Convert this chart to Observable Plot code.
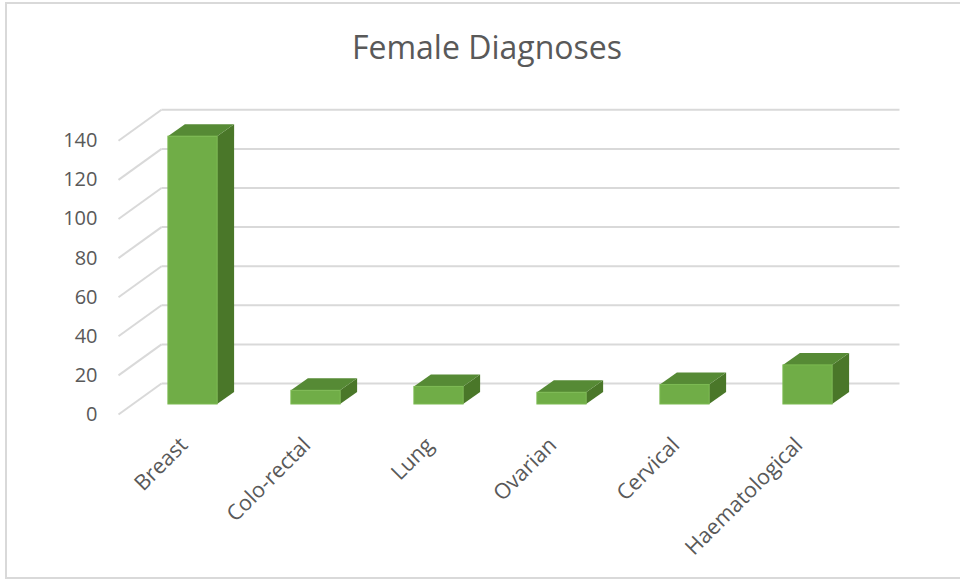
<!DOCTYPE html>
<html><head><meta charset="utf-8">
<script src="https://cdn.jsdelivr.net/npm/d3@7"></script>
<script src="https://cdn.jsdelivr.net/npm/@observablehq/plot@0.6"></script>
<style>
html,body{margin:0;padding:0;background:#fff;width:960px;height:579px;overflow:hidden;}
#frame{position:absolute;left:5px;top:2px;width:960px;height:573px;border:2px solid #d9d9d9;border-right:none;pointer-events:none;}
#title{height:80px;position:relative;}
#title span{position:absolute;left:487px;top:25px;transform:translateX(-50%);font-family:"Open Sans";font-size:32px;line-height:normal;color:#595959;white-space:nowrap;}
#chart svg{display:block;}
</style></head><body>
<div id="frame"></div>
<div id="title"><span>Female Diagnoses</span></div>
<div id="chart"></div>
<script>
const categories = ["Breast", "Colo-rectal", "Lung", "Ovarian", "Cervical", "Haematological"];
const values = [137, 7, 9, 6, 10, 20];
const yTicks = [0, 20, 40, 60, 80, 100, 120, 140];

// 3D projection offsets (in data units of the bar front plane)
const pxX = 123, pxY = 1.955;
const bx = 30 / pxX, by = 21 / pxY;     // back wall
const fx = -13 / pxX, fy = -10 / pxY;   // front edge of floor/side wall
const ddx = 17 / pxX, ddy = 12 / pxY;   // bar depth
const bw0 = 0.3, bw1 = 0.7;

const bars = categories.map((c, i) => ({c, i, v: values[i]}));
const sideFaces = bars.flatMap(d => [
  {k: d.c, x: d.i + bw1, y1: 0, y2: d.v},
  {k: d.c, x: d.i + bw1 + ddx, y1: ddy, y2: d.v + ddy}
]);
const topFaces = bars.flatMap(d => [
  {k: d.c, y: d.v, x1: d.i + bw0, x2: d.i + bw1},
  {k: d.c, y: d.v + ddy, x1: d.i + bw0 + ddx, x2: d.i + bw1 + ddx}
]);

const grid = "#d9d9d9";
const chart = Plot.plot({
  width: 960,
  height: 499,
  marginLeft: 131,
  marginRight: 91,
  marginTop: 50.3,
  marginBottom: 175,
  x: {type: "linear", domain: [0, 6], axis: null},
  y: {type: "linear", domain: [0, 140], axis: null},
  style: {fontFamily: "Open Sans", background: "transparent"},
  marks: [
    Plot.link(yTicks, {x1: bx, x2: 6 + bx, y1: d => d + by, y2: d => d + by, stroke: grid, strokeWidth: 2}),
    Plot.link(yTicks, {x1: fx, x2: bx, y1: d => d + fy, y2: d => d + by, stroke: grid, strokeWidth: 2}),
    Plot.areaY(sideFaces, {x: "x", y1: "y1", y2: "y2", z: "k", fill: "#4a7729", curve: "linear"}),
    Plot.areaX(topFaces, {y: "y", x1: "x1", x2: "x2", z: "k", fill: "#568a35", curve: "linear"}),
    Plot.rectY(bars, {x1: d => d.i + bw0, x2: d => d.i + bw1, y1: 0, y2: "v", fill: "#70AD47", stroke: "#7cba52", strokeWidth: 1}),
    Plot.text(yTicks, {x: fx, y: d => d + fy, text: d => String(d), textAnchor: "end", dx: -21, fontSize: 20, fill: "#595959"}),
    Plot.text(bars, {x: d => d.i + 0.5, y: 0, text: "c", rotate: -45, textAnchor: "end", dx: -9, dy: 37, fontSize: 21.5, fill: "#595959"})
  ]
});
document.getElementById("chart").appendChild(chart);
</script>
</body></html>
